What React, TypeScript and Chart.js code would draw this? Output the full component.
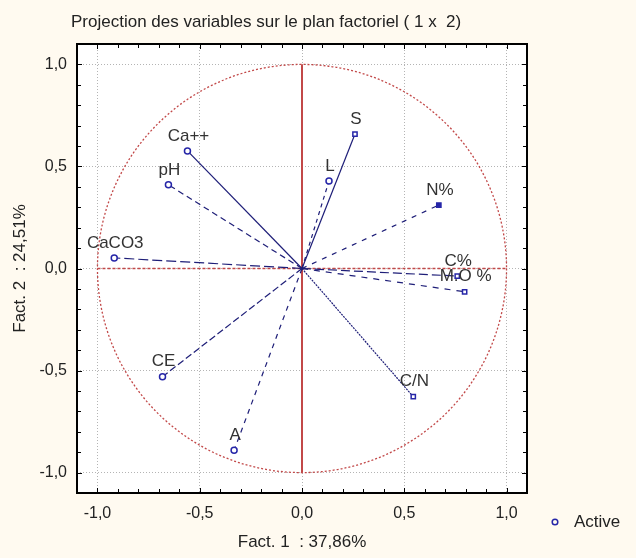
import React, { useEffect, useRef } from 'react';
import { Chart, registerables } from 'chart.js';

Chart.register(...registerables);

// ---- data ----
const variableNames = ['Ca++', 'pH', 'CaCO3', 'S', 'L', 'N%', 'C%', 'M.O %', 'CE', 'A', 'C/N'];
const fact1Values = [-0.56, -0.653, -0.918, 0.259, 0.132, 0.669, 0.759, 0.795, -0.682, -0.332, 0.544];
const fact2Values = [0.576, 0.41, 0.052, 0.659, 0.429, 0.311, -0.037, -0.114, -0.53, -0.891, -0.628];
const tickValues = [-1, -0.5, 0, 0.5, 1];
const titleText = 'Projection des variables sur le plan factoriel ( 1 x  2)';
const xTitle = 'Fact. 1  : 37,86%';
const yTitle = 'Fact. 2  : 24,51%';
const legendLabel = 'Active';

// ---- styles ----
const markerShapes = ['circle', 'circle', 'circle', 'rect', 'circle', 'rect', 'rect', 'rect', 'circle', 'circle', 'rect'];
const markerFilled = [false, false, false, false, false, true, false, false, false, false, false];
const lineDashes: number[][] = [[], [6, 4], [10, 4], [], [4, 4], [5, 6], [9, 4], [6, 6], [7, 3], [5, 5], [2, 1]];

const BG = '#FFFAF0';
const NAVY = '#1e1e78';
const MARK = '#2626a8';
const RED = '#c24848';
const TEXT = '#222222';
const FONT = '"Liberation Sans", Arial, sans-serif';
const FS = 17;
const TFS = 16;

const fmt = (v: number) => v.toFixed(1).replace('.', ',');

const decoPlugin = {
  id: 'deco',
  beforeDraw(chart: any) {
    const { ctx, chartArea: a, width, height } = chart;
    ctx.save();
    ctx.fillStyle = BG;
    ctx.fillRect(0, 0, width, height);
    ctx.fillStyle = '#ffffff';
    ctx.fillRect(a.left, a.top, a.right - a.left, a.bottom - a.top);
    ctx.restore();
  },
  beforeDatasetsDraw(chart: any) {
    const { ctx } = chart;
    const xs = chart.scales.x;
    const ys = chart.scales.y;
    const cx = xs.getPixelForValue(0);
    const cy = ys.getPixelForValue(0);
    const rx = xs.getPixelForValue(1) - cx;
    const ry = cy - ys.getPixelForValue(1);
    ctx.save();
    // unit circle
    ctx.strokeStyle = RED;
    ctx.lineWidth = 1.3;
    ctx.setLineDash([2, 2]);
    ctx.beginPath();
    ctx.ellipse(cx, cy, rx, ry, 0, 0, Math.PI * 2);
    ctx.stroke();
    // horizontal axis (dotted)
    ctx.lineWidth = 1.6;
    ctx.setLineDash([3, 2]);
    ctx.beginPath();
    ctx.moveTo(xs.getPixelForValue(-1), cy);
    ctx.lineTo(xs.getPixelForValue(1), cy);
    ctx.stroke();
    // vertical axis (solid)
    ctx.setLineDash([]);
    ctx.lineWidth = 2;
    ctx.beginPath();
    ctx.moveTo(cx, ys.getPixelForValue(1));
    ctx.lineTo(cx, ys.getPixelForValue(-1));
    ctx.stroke();
    ctx.restore();
  },
  afterDatasetsDraw(chart: any) {
    const { ctx } = chart;
    ctx.save();
    ctx.font = `${FS}px ${FONT}`;
    ctx.fillStyle = '#333333';
    ctx.textAlign = 'center';
    ctx.textBaseline = 'middle';
    variableNames.forEach((name, i) => {
      const meta = chart.getDatasetMeta(i);
      const p = meta.data[1];
      ctx.fillText(name, p.x + 1, p.y - 15);
    });
    ctx.restore();
  },
  afterDraw(chart: any) {
    const { ctx, chartArea: a } = chart;
    const xs = chart.scales.x;
    const ys = chart.scales.y;
    ctx.save();
    // minor ticks (inward)
    ctx.strokeStyle = '#000';
    ctx.lineWidth = 1;
    for (let k = -11; k <= 11; k++) {
      const v = k / 10;
      const major = k % 5 === 0;
      const len = major ? 5 : 4;
      const px = Math.round(xs.getPixelForValue(v)) + 0.5;
      const py = Math.round(ys.getPixelForValue(v)) + 0.5;
      ctx.beginPath();
      ctx.moveTo(px, a.bottom);
      ctx.lineTo(px, a.bottom - len);
      ctx.moveTo(px, a.top);
      ctx.lineTo(px, a.top + len);
      ctx.moveTo(a.left, py);
      ctx.lineTo(a.left + len, py);
      ctx.moveTo(a.right, py);
      ctx.lineTo(a.right - len, py);
      ctx.stroke();
    }
    // frame
    ctx.lineWidth = 2;
    ctx.strokeRect(a.left, a.top, a.right - a.left, a.bottom - a.top);
    // title
    ctx.fillStyle = TEXT;
    ctx.font = `${FS}px ${FONT}`;
    ctx.textAlign = 'left';
    ctx.textBaseline = 'middle';
    ctx.fillText(titleText, 63, 14);
    // legend
    ctx.strokeStyle = MARK;
    ctx.lineWidth = 1.5;
    ctx.beginPath();
    ctx.arc(547, 514, 2.8, 0, Math.PI * 2);
    ctx.stroke();
    ctx.fillStyle = TEXT;
    ctx.fillText(legendLabel, 566, 514);
    ctx.restore();
  },
};

export default function App() {
  const ref = useRef<HTMLCanvasElement | null>(null);

  useEffect(() => {
    document.body.style.background = BG;
    const canvas = ref.current;
    if (!canvas) return;
    const datasets = variableNames.map((name, i) => ({
      label: name,
      data: [
        { x: 0, y: 0 },
        { x: fact1Values[i], y: fact2Values[i] },
      ],
      showLine: true,
      borderColor: NAVY,
      borderWidth: 1.2,
      borderDash: lineDashes[i],
      pointRadius: [0, 3],
      pointStyle: markerShapes[i],
      pointBorderColor: MARK,
      pointBorderWidth: 1.5,
      pointBackgroundColor: markerFilled[i] ? MARK : '#ffffff',
    }));

    const chart = new Chart(canvas, {
      type: 'scatter',
      data: { datasets },
      plugins: [decoPlugin],
      options: {
        animation: false,
        responsive: false,
        layout: { padding: { left: 0, top: 36, right: 101, bottom: 0 } },
        plugins: {
          legend: { display: false },
          tooltip: { enabled: false },
          title: { display: false },
        },
        scales: {
          x: {
            type: 'linear',
            min: -1.1,
            max: 1.1,
            afterBuildTicks: (s: any) => {
              s.ticks = tickValues.map((v) => ({ value: v }));
            },
            afterFit: (s: any) => {
              s.height = 57;
            },
            grid: { color: '#b4b4b4', drawTicks: false, lineWidth: 1 },
            border: { display: false, dash: [1, 2] },
            ticks: {
              padding: 11,
              color: TEXT,
              font: { size: TFS, family: FONT },
              callback: (v: any) => fmt(Number(v)),
              maxRotation: 0,
            },
            title: {
              display: true,
              text: xTitle,
              color: TEXT,
              font: { size: FS, family: FONT },
              padding: { top: 0, bottom: -3 },
            },
          },
          y: {
            type: 'linear',
            min: -1.1,
            max: 1.1,
            afterBuildTicks: (s: any) => {
              s.ticks = tickValues.map((v) => ({ value: v }));
            },
            afterFit: (s: any) => {
              s.width = 69;
            },
            grid: { color: '#b4b4b4', drawTicks: false, lineWidth: 1 },
            border: { display: false, dash: [1, 2] },
            ticks: {
              padding: 10,
              color: TEXT,
              font: { size: TFS, family: FONT },
              callback: (v: any) => fmt(Number(v)),
            },
            title: {
              display: true,
              text: yTitle,
              color: TEXT,
              font: { size: FS, family: FONT },
              padding: { top: 2, bottom: 0 },
            },
          },
        },
      } as any,
    });
    return () => chart.destroy();
  }, []);

  return (
    <div style={{ width: 620, height: 542 }}>
      <canvas ref={ref} width={620} height={542} />
    </div>
  );
}
